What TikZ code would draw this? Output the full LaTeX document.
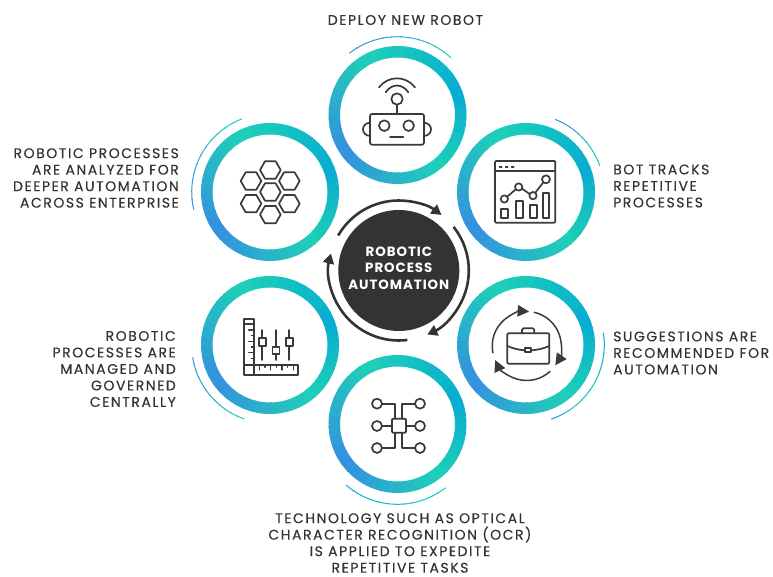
\documentclass[tikz,border=0pt]{standalone}
\usepackage{fontspec}
\setmainfont[LetterSpace=11,FakeBold=0.25]{Poppins}
\newfontfamily\hubfont[LetterSpace=7]{Poppins}
\usetikzlibrary{arrows.meta}
\definecolor{tealc}{RGB}{30,208,182}
\definecolor{cyanc}{RGB}{8,172,210}
\definecolor{bluec}{RGB}{53,143,224}
\definecolor{inkc}{RGB}{58,58,58}
\definecolor{darkc}{RGB}{51,51,51}
\tikzset{
  label text/.style={font=\fontsize{14}{16.5}\selectfont, text=darkc, inner sep=0pt},
  center text/.style={font=\fontsize{13.4}{16.5}\selectfont\hubfont\bfseries, text=white, align=center, inner sep=0pt},
  icon/.style={draw=inkc, line width=1.7pt, line join=round, line cap=round},
  loop arrow/.style={draw=darkc, line width=2.6pt, -{Triangle[length=10pt,width=11pt]}},
  brief arrow/.style={draw=inkc, line width=1.5pt, -{Triangle[length=11.5pt,width=11.5pt]}},
}
% annular sector series: #1 #2 angles, #3 #4 colours, #5 outer, #6 inner
\newcommand{\gradsec}[6]{%
  \foreach \i in {0,...,11}{%
    \pgfmathsetmacro{\aa}{#1+(#2-#1)*\i/12}%
    \pgfmathsetmacro{\ab}{#1+(#2-#1)*(\i+1.15)/12}%
    \pgfmathsetmacro{\mx}{100*(\i+0.5)/12}%
    \fill[#4!\mx!#3] (\aa:#5) arc[start angle=\aa,end angle=\ab,radius=#5] -- (\ab:#6) arc[start angle=\ab,end angle=\aa,radius=#6] -- cycle;
  }%
}
\newcommand{\gradring}[2]{%
  \begin{scope}[shift={(#1,#2)}]
    \gradsec{20}{115}{cyanc}{tealc}{69}{57.5}
    \gradsec{115}{215}{tealc}{bluec}{69}{57.5}
    \gradsec{215}{310}{bluec}{tealc}{69}{57.5}
    \gradsec{310}{380}{tealc}{cyanc}{69}{57.5}
  \end{scope}%
}
% thin outer arc: centre, start, end, colours
\newcommand{\thinarc}[6]{%
  \begin{scope}[shift={(#1,#2)}]
    \gradsec{#3}{#4}{#5}{#6}{78.8}{77.8}
  \end{scope}%
}
\begin{document}
\begin{tikzpicture}[x=1pt,y=1pt]
\useasboundingbox (0,0) rectangle (773,576);
\begin{scope}[shift={(0,576)}]
  % rings
  \gradring{397.5}{-115}
  \gradring{526}{-192}
  \gradring{526}{-345}
  \gradring{397.5}{-424}
  \gradring{270}{-345}
  \gradring{270}{-192}
  % thin arcs
  \thinarc{397.5}{-115}{128}{48}{bluec}{tealc}
  \thinarc{526}{-192}{68}{20}{bluec}{tealc}
  \thinarc{526}{-345}{9}{-50}{cyanc}{tealc}
  \thinarc{526}{-345}{-50}{-71}{tealc}{bluec}
  \thinarc{397.5}{-426}{229}{307}{cyanc}{tealc}
  \thinarc{270}{-345}{189}{250}{bluec}{tealc}
  \thinarc{270}{-192}{111}{192}{tealc}{bluec}
  % centre
  \node[circle,fill=darkc,minimum size=121pt,inner sep=0pt] (hub) at (398.8,-270.5) {};
  \node[center text] (hubtext) at (398.8,-268) {ROBOTIC\\PROCESS\\AUTOMATION};
  \begin{scope}[shift={(398.8,-270.5)}]
    \draw[loop arrow] (150:70) arc[start angle=150,end angle=52.5,radius=70];
    \draw[loop arrow] (38.5:70) arc[start angle=38.5,end angle=-66,radius=70];
    \draw[loop arrow] (-83:70) arc[start angle=-83,end angle=-194,radius=70];
  \end{scope}
  % labels
  \node[label text,align=center] (l1) at (405.5,-20) {DEPLOY NEW ROBOT};
  \node[label text,align=left,anchor=west] (l2) at (613,-186) {BOT TRACKS\\REPETITIVE\\PROCESSES};
  \node[label text,align=left,anchor=west] (l3) at (613,-353) {SUGGESTIONS ARE\\RECOMMENDED FOR\\AUTOMATION};
  \node[label text,align=center] (l4) at (400,-543) {TECHNOLOGY SUCH AS OPTICAL\\CHARACTER RECOGNITION (OCR)\\IS APPLIED TO EXPEDITE\\REPETITIVE TASKS};
  \node[label text,align=right,anchor=east] (l5) at (176,-369) {ROBOTIC\\PROCESSES ARE\\MANAGED AND\\GOVERNED\\CENTRALLY};
  \node[label text,align=right,anchor=east] (l6) at (179,-178) {ROBOTIC PROCESSES\\ARE ANALYZED FOR\\DEEPER AUTOMATION\\ACROSS ENTERPRISE};
  % robot icon
  \begin{scope}[shift={(320,-30)},x=0.3333pt,y=-0.3333pt]
    \draw[icon,rounded corners=2pt] (150,252) rectangle (312,344);
    \draw[icon] (193,287) circle[radius=16];
    \draw[icon] (266,287) circle[radius=16];
    \draw[icon] (210,320) -- (250,320);
    \draw[icon] (150,278) .. controls (122,280) and (122,316) .. (150,318);
    \draw[icon] (312,278) .. controls (340,280) and (340,316) .. (312,318);
    \draw[icon] (231,224) -- (231,252);
    \draw[icon] (231,207) circle[radius=17];
    \draw[icon] (177,172) .. controls (205,136) and (257,136) .. (285,172);
    \draw[icon] (197,187) .. controls (215,160) and (247,160) .. (265,187);
  \end{scope}
  % chart icon
  \begin{scope}[shift={(450,-110)},x=0.3333pt,y=-0.3333pt]
    \draw[icon,rounded corners=1pt] (135,153) rectangle (316,338);
    \draw[icon] (135,182) -- (316,182);
    \foreach \x in {152,170,188} \draw[icon] (\x-3,170) -- (\x+3,170);
    \draw[icon] (154,296) rectangle (175,323);
    \draw[icon] (197,272) rectangle (218,323);
    \draw[icon] (239,285) rectangle (260,323);
    \draw[icon] (278,249) rectangle (298,323);
    \draw[icon] (163,267) circle[radius=11];
    \draw[icon] (206,231) circle[radius=11];
    \draw[icon] (249,257) circle[radius=11];
    \draw[icon] (288,208) circle[radius=12];
    \draw[icon] (171.5,260) -- (197.5,238);
    \draw[icon] (216,236) -- (239,252);
    \draw[icon] (256,248) -- (280,217);
  \end{scope}
  % briefcase icon
  \begin{scope}[shift={(450,-270)},x=0.3333pt,y=-0.3333pt]
    \draw[icon,rounded corners=1pt] (172,190) rectangle (298,281);
    \draw[icon,rounded corners=1.5pt] (216,190) -- (216,175) -- (253,175) -- (253,190);
    \draw[icon] (172,228) .. controls (190,236) and (208,240) .. (225,241);
    \draw[icon] (244,241) .. controls (262,240) and (280,236) .. (298,228);
    \draw[icon] (225,234) rectangle (244,247);
  \end{scope}
  \begin{scope}[shift={(526.7,-346)}]
    \draw[brief arrow] (192:34.5) arc[start angle=192,end angle=86,radius=34.5];
    \draw[brief arrow] (78:34.5) arc[start angle=78,end angle=-34,radius=34.5];
    \draw[brief arrow] (-47:34.5) arc[start angle=-47,end angle=-156,radius=34.5];
  \end{scope}
  % network icon
  \begin{scope}[shift={(320,-350)},x=0.3333pt,y=-0.3333pt]
    \draw[icon,rounded corners=1pt] (216,206) rectangle (258,248);
    \foreach \x in {171,300}\foreach \y in {161,228,294} \draw[icon] (\x,\y) circle[radius=15];
    \draw[icon] (186,161) -- (226,161) -- (226,206);
    \draw[icon] (186,228) -- (216,228);
    \draw[icon] (186,294) -- (226,294) -- (226,248);
    \draw[icon] (285,161) -- (245,161) -- (245,206);
    \draw[icon] (285,228) -- (258,228);
    \draw[icon] (285,294) -- (245,294) -- (245,248);
  \end{scope}
  % ruler icon
  \begin{scope}[shift={(190,-270)},x=0.3333pt,y=-0.3333pt]
    \draw[icon] (162,148) -- (192,148) -- (192,284) -- (325,284) -- (325,316) -- (162,316) -- cycle;
    \draw[icon] (162,284) -- (192,284) -- (192,316);
    \draw[icon] (162,163) -- (192,163);
    \foreach \y/\l in {180/176,197/184,214/176,231/184,248/176,265/184} \draw[icon,line width=1.2pt] (192,\y) -- (\l,\y);
    \foreach \x/\l in {208/300,225/292,242/300,259/292,276/300,293/292,310/300} \draw[icon,line width=1.2pt] (\x,284) -- (\x,\l);
    \foreach \x/\b in {217/205,258/230,298/204}{
      \draw[icon] (\x,180) -- (\x,\b);
      \draw[icon] (\x,\b+23) -- (\x,270);
      \draw[icon] (\x-10.5,\b) rectangle (\x+10.5,\b+23);
    }
  \end{scope}
  % hexagon icon
  \begin{scope}[shift={(190,-110)},x=0.3333pt,y=-0.3333pt]
    \foreach \x/\y in {241/180,183/213,298/213,241/246,183/281,298/281,241/314}
      \draw[icon] (\x-31,\y) -- (\x-16,\y-26) -- (\x+16,\y-26) -- (\x+31,\y) -- (\x+16,\y+26) -- (\x-16,\y+26) -- cycle;
  \end{scope}
\end{scope}
\end{tikzpicture}
\end{document}
